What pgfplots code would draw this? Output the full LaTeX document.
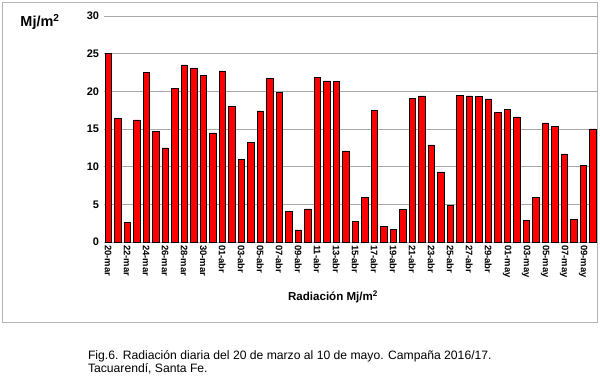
\documentclass[border=0pt]{standalone}
\usepackage{fontspec}
\setmainfont{Liberation Sans}
\usepackage{pgfplots}
\pgfplotsset{compat=1.18}
\definecolor{gridgray}{HTML}{A8A8A8}
\definecolor{boxgray}{HTML}{B4B4B4}
\begin{document}
\begin{tikzpicture}
\useasboundingbox (0bp,0bp) rectangle (600bp,380bp);
\draw[boxgray, line width=1bp] (2.5bp,57.5bp) rectangle (597.5bp,377.5bp);
\begin{axis}[
  at={(103.5bp,138bp)}, anchor=south west,
  scale only axis, width=494bp, height=226bp,
  xmin=-0.5, xmax=51.5, ymin=0, ymax=30,
  ytick={0,5,10,15,20,25,30},
  xtick={0,2,...,50},
  xticklabels={20-mar,22-mar,24-mar,26-mar,28-mar,30-mar,01-abr,03-abr,05-abr,07-abr,09-abr,11-abr,13-abr,15-abr,17-abr,19-abr,21-abr,23-abr,25-abr,27-abr,29-abr,01-may,03-may,05-may,07-may,09-may},
  /pgf/number format/assume math mode=true,
  ymajorgrids, grid style={gridgray, line width=0.9bp},
  major tick length=0pt,
  separate axis lines,
  axis x line*=bottom, axis y line*=left,
  y axis line style={draw=none},
  x axis line style={gridgray, line width=0.9bp},
  yticklabel style={font=\fontsize{11}{11}\selectfont\bfseries, xshift=-1bp},
  xticklabel style={font=\fontsize{9.5}{9.5}\selectfont\bfseries, rotate=-90, anchor=west, xshift=-0.5bp},
  clip=false,
]
\addplot[ybar, bar width=6.2bp, fill=red, draw=black, line width=0.5bp] coordinates {
(0,25.0) (1,16.4) (2,2.6) (3,16.2) (4,22.5) (5,14.7) (6,12.5) (7,20.4) (8,23.5) (9,23.1)
(10,22.1) (11,14.5) (12,22.7) (13,18.0) (14,11.0) (15,13.2) (16,17.4) (17,21.7) (18,19.9) (19,4.1)
(20,1.6) (21,4.4) (22,21.9) (23,21.4) (24,21.3) (25,12.1) (26,2.7) (27,5.9) (28,17.5) (29,2.1)
(30,1.7) (31,4.3) (32,19.1) (33,19.4) (34,12.9) (35,9.3) (36,4.9) (37,19.5) (38,19.4) (39,19.3)
(40,19.0) (41,17.2) (42,17.6) (43,16.6) (44,2.9) (45,5.9) (46,15.8) (47,15.3) (48,11.7) (49,3.05)
(50,10.2) (51,15.0)
};
\end{axis}
\node at (40bp,358bp) {\fontsize{14.5}{14.5}\selectfont\bfseries Mj/m\textsuperscript{2}};
\node at (333bp,83bp) {\fontsize{11.6}{11.6}\selectfont\bfseries Radiación Mj/m\textsuperscript{2}};
\node[anchor=base west, align=left, font=\fontsize{12.2}{13}\selectfont] at (84.5bp,7.5bp) {Fig.6. Radiación diaria del 20 de marzo al 10 de mayo. Campaña 2016/17.\\Tacuarendí, Santa Fe.};
\end{tikzpicture}
\end{document}
